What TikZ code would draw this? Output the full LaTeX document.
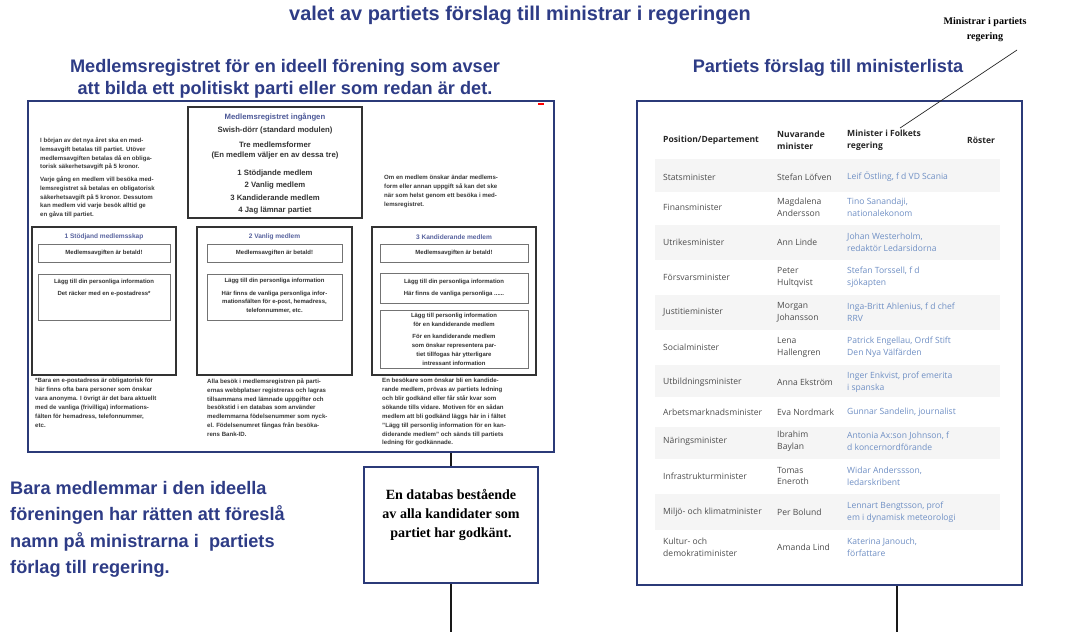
\documentclass[tikz,border=0pt]{standalone}
\usepackage{fontspec}
\setmainfont{Liberation Sans}
\newfontfamily\tabfont{Open Sans}
\newfontfamily\serfont{Liberation Serif}
\usetikzlibrary{positioning}

\definecolor{rubrikblue}{HTML}{2E3C86}
\definecolor{ramblue}{HTML}{2B3A78}
\definecolor{namnblue}{HTML}{6F8FC4}
\definecolor{textgray}{HTML}{3A3A3A}

\tikzset{ramnode/.style={rectangle, draw=ramblue, line width=2.2pt}}
\tikzset{formnode/.style={rectangle, draw=black!80, line width=1.3pt}}
\tikzset{faltnode/.style={rectangle, draw=black!55, line width=0.6pt}}
\tikzset{rubrik/.style={font=\fontsize{15.5}{19}\selectfont\bfseries, text=rubrikblue, align=center, inner sep=0pt}}
\tikzset{liten/.style={font=\fontsize{5.2}{7.6}\selectfont\bfseries, text=textgray, align=left, anchor=north west, inner sep=0pt}}
\tikzset{ingtext/.style={font=\fontsize{6.6}{8.2}\selectfont\bfseries, text=black!80, align=center, inner sep=0pt}}
\tikzset{formtitel/.style={font=\fontsize{5.6}{7}\selectfont\bfseries, text=rubrikblue!80, inner sep=0pt}}
\tikzset{falttext/.style={font=\fontsize{5.1}{7.6}\selectfont\bfseries, text=black!80, align=center, inner sep=0pt}}
\tikzset{tabhead/.style={font=\tabfont\bfseries\fontsize{7.3}{10.2}\selectfont, text=black!85, align=left, anchor=west, inner sep=0pt}}
\tikzset{tabcell/.style={font=\tabfont\fontsize{7.3}{10.2}\selectfont, text=black!70, align=left, anchor=west, inner sep=0pt}}
\tikzset{tabnamn/.style={tabcell, text=namnblue}}
\tikzset{forbind/.style={draw=black!90, line width=1.6pt}}

\begin{document}
\begin{tikzpicture}[x=0.03cm, y=-0.03cm]
		\useasboundingbox (0,0) rectangle (1080,632);
		\fill[white] (0,0) rectangle (1080,632);

		%rubriker
		\node[rubrik, font=\fontsize{17}{20}\selectfont\bfseries] (titel) at (520,15) {valet av partiets förslag till ministrar i regeringen};
		\node[rubrik] (regrubrik) at (285,79) {Medlemsregistret för en ideell förening som avser\\att bilda ett politiskt parti eller som redan är det.};
		\node[rubrik] (listrubrik) at (828,68) {Partiets förslag till ministerlista};
		\node[font=\serfont\bfseries\fontsize{8.6}{12.8}\selectfont, align=center, inner sep=0pt] (minlabel) at (985,29.5) {Ministrar i partiets\\regering};

		%medlemsregistret
		\node[ramnode, minimum width=15.78cm, minimum height=10.53cm] (reg) at (291,276.5) {};
		\draw[red, line width=1.5pt] (538,104) -- (544,104);

		\node[formnode, minimum width=5.22cm, minimum height=3.33cm] (ingang) at (275,162.5) {};
		\node[ingtext, text=rubrikblue!85] (ing1) at (275,117) {Medlemsregistret ingången};
		\node[ingtext] (ing2) at (275,130) {Swish-dörr (standard modulen)};
		\node[ingtext] (ing3) at (275,150.5) {Tre medlemsformer\\(En medlem väljer en av dessa tre)};
		\node[ingtext] (ing4) at (275,173) {1 Stödjande medlem};
		\node[ingtext] (ing5) at (275,185.5) {2 Vanlig medlem};
		\node[ingtext] (ing6) at (275,198) {3 Kandiderande medlem};
		\node[ingtext] (ing7) at (275,210.5) {4 Jag lämnar partiet};

		\node[liten] (avgift) at (40,137) {I början av det nya året ska en med-\\lemsavgift betalas till partiet. Utöver\\medlemsavgiften betalas då en obliga-\\torisk säkerhetsavgift på 5 kronor.};
		\node[liten] (besok) at (40,176) {Varje gång en medlem vill besöka med-\\lemsregistret så betalas en obligatorisk\\säkerhetsavgift på 5 kronor. Dessutom\\kan medlem vid varje besök alltid ge\\en gåva till partiet.};
		\node[liten] (andra) at (384,175) {Om en medlem önskar ändar medlems-\\form eller annan uppgift så kan det ske\\när som helst genom ett besöka i med-\\lemsregistret.};

		%medlemsformer
		\node[formnode, minimum width=4.32cm, minimum height=4.44cm] (stod) at (104,301) {};
		\node[formtitel] (stodtitel) at (104,237) {1 Stödjand medlemsskap};
		\node[faltnode, minimum width=3.96cm, minimum height=0.54cm] (stodbet) at (104,253) {};
		\node[falttext] at (stodbet) {Medlemsavgiften är betald!};
		\node[faltnode, minimum width=3.96cm, minimum height=1.38cm] (stodinfo) at (104,297) {};
		\node[falttext] at (104,288) {Lägg till din personliga information\\[3pt]Det räcker med en e-postadress*};

		\node[formnode, minimum width=4.65cm, minimum height=4.44cm] (vanlig) at (274.5,301) {};
		\node[formtitel] (vanligtitel) at (274.5,237) {2 Vanlig medlem};
		\node[faltnode, minimum width=4.05cm, minimum height=0.54cm] (vanligbet) at (274.5,253) {};
		\node[falttext] at (vanligbet) {Medlemsavgiften är betald!};
		\node[faltnode, minimum width=4.05cm, minimum height=1.38cm] (vanliginfo) at (274.5,297) {};
		\node[falttext] at (274.5,296) {Lägg till din personliga information\\[3pt]Här finns de vanliga personliga infor-\\mationsfälten för e-post, hemadress,\\telefonnummer, etc.};

		\node[formnode, minimum width=4.92cm, minimum height=4.44cm] (kand) at (454,301) {};
		\node[formtitel] (kandtitel) at (454,237) {3 Kandiderande medlem};
		\node[faltnode, minimum width=4.44cm, minimum height=0.54cm] (kandbet) at (454,253) {};
		\node[falttext] at (kandbet) {Medlemsavgiften är betald!};
		\node[faltnode, minimum width=4.44cm, minimum height=0.9cm] (kandinfo) at (454,288) {};
		\node[falttext] at (kandinfo) {Lägg till din personliga information\\[3pt]Här finns de vanliga personliga ......};
		\node[faltnode, minimum width=4.44cm, minimum height=1.74cm] (kandextra) at (454,339) {};
		\node[falttext] at (kandextra) {Lägg till personlig information\\för en kandiderande medlem\\[3pt]För en kandiderande medlem\\som önskar representera par-\\tiet tillfogas här ytterligare\\intressant information};

		\node[liten] (stodnot) at (35,378) {*Bara en e-postadress är obligatorisk för\\här finns ofta bara personer som önskar\\vara anonyma. I övrigt är det bara aktuellt\\med de vanliga (frivilliga) informations-\\fälten för hemadress, telefonnummer,\\etc.};
		\node[liten] (vanlignot) at (207,378) {Alla besök i medlemsregistren på parti-\\ernas webbplatser registreras och lagras\\tillsammans med lämnade uppgifter och\\besökstid i en databas som använder\\medlemmarna födelsenummer som nyck-\\el. Födelsenumret fångas från besöka-\\rens Bank-ID.};
		\node[liten] (kandnot) at (382,378) {En besökare som önskar bli en kandide-\\rande medlem, prövas av partiets ledning\\och blir godkänd eller får står kvar som\\sökande tills vidare. Motiven för en sådan\\medlem att bli godkänd läggs här in i fältet\\"Lägg till personlig information för en kan-\\diderande medlem" och sänds till partiets\\ledning för godkännade.};

		%databas och text under
		\node[rubrik, align=left, anchor=north west, font=\fontsize{15.5}{22.5}\selectfont\bfseries] (ratt) at (10,481) {Bara medlemmar i den ideella\\föreningen har rätten att föreslå\\namn på ministrarna i~ partiets\\förlag till regering.};

		\node[ramnode, line width=2pt, minimum width=5.22cm, minimum height=3.48cm] (db) at (451,525) {};
		\node[font=\serfont\bfseries\fontsize{12}{16.2}\selectfont, align=center, inner sep=0pt, anchor=north] (dbtext) at (451,489) {En databas bestående\\av alla kandidater som\\partiet har godkänt.};
		\coordinate (dbslut) at (451,632);

		\path[forbind] (reg.south -| db.north) -- (db.north);
		\path[forbind] (db.south) -- (dbslut);

		%ministerlista
		\node[ramnode, minimum width=11.55cm, minimum height=14.52cm] (lista) at (829.5,343) {};
		\coordinate (listaslut) at (897,632);
		\path[forbind] (listaslut |- lista.south) -- (listaslut);

		\fill[black!4] (655,158.5) rectangle (1000,192);
		\fill[black!4] (655,224.5) rectangle (1000,259.5);
		\fill[black!4] (655,294.5) rectangle (1000,329.5);
		\fill[black!4] (655,364.5) rectangle (1000,397);
		\fill[black!4] (655,426.5) rectangle (1000,458.5);
		\fill[black!4] (655,494) rectangle (1000,529.5);

		\node[tabhead] (h1) at (663,140) {Position/Departement};
		\node[tabhead] (h2) at (777,140) {Nuvarande\\minister};
		\node[tabhead] (h3) at (847,140) {Minister i Folkets\\regering};
		\node[tabhead] (h4) at (967,140) {Röster};

		\node[tabcell] (r1a) at (663,177) {Statsminister};
		\node[tabcell] (r1b) at (777,177) {Stefan Löfven};
		\node[tabnamn] (r1c) at (847,177) {Leif Östling, f d VD Scania};

		\node[tabcell] (r2a) at (663,207) {Finansminister};
		\node[tabcell] (r2b) at (777,207) {Magdalena\\Andersson};
		\node[tabnamn] (r2c) at (847,207) {Tino Sanandaji,\\nationalekonom};

		\node[tabcell] (r3a) at (663,242) {Utrikesminister};
		\node[tabcell] (r3b) at (777,242) {Ann Linde};
		\node[tabnamn] (r3c) at (847,242) {Johan Westerholm,\\redaktör Ledarsidorna};

		\node[tabcell] (r4a) at (663,277) {Försvarsminister};
		\node[tabcell] (r4b) at (777,277) {Peter\\Hultqvist};
		\node[tabnamn] (r4c) at (847,277) {Stefan Torssell, f d\\sjökapten};

		\node[tabcell] (r5a) at (663,312) {Justitieminister};
		\node[tabcell] (r5b) at (777,312) {Morgan\\Johansson};
		\node[tabnamn] (r5c) at (847,312) {Inga-Britt Ahlenius, f d chef\\RRV};

		\node[tabcell] (r6a) at (663,347) {Socialminister};
		\node[tabcell] (r6b) at (777,347) {Lena\\Hallengren};
		\node[tabnamn] (r6c) at (847,347) {Patrick Engellau, Ordf Stift\\Den Nya Välfärden};

		\node[tabcell] (r7a) at (663,382) {Utbildningsminister};
		\node[tabcell] (r7b) at (777,382) {Anna Ekström};
		\node[tabnamn] (r7c) at (847,382) {Inger Enkvist, prof emerita\\i spanska};

		\node[tabcell] (r8a) at (663,412) {Arbetsmarknadsminister};
		\node[tabcell] (r8b) at (777,412) {Eva Nordmark};
		\node[tabnamn] (r8c) at (847,412) {Gunnar Sandelin, journalist};

		\node[tabcell] (r9a) at (663,441) {Näringsminister};
		\node[tabcell] (r9b) at (777,441) {Ibrahim\\Baylan};
		\node[tabnamn] (r9c) at (847,441) {Antonia Ax:son Johnson, f\\d koncernordförande};

		\node[tabcell] (r10a) at (663,476) {Infrastrukturminister};
		\node[tabcell] (r10b) at (777,476) {Tomas\\Eneroth};
		\node[tabnamn] (r10c) at (847,476) {Widar Anderssson,\\ledarskribent};

		\node[tabcell] (r11a) at (663,512) {Miljö- och klimatminister};
		\node[tabcell] (r11b) at (777,512) {Per Bolund};
		\node[tabnamn] (r11c) at (847,512) {Lennart Bengtsson, prof\\em i dynamisk meteorologi};

		\node[tabcell] (r12a) at (663,547) {Kultur- och\\demokratiminister};
		\node[tabcell] (r12b) at (777,547) {Amanda Lind};
		\node[tabnamn] (r12c) at (847,547) {Katerina Janouch,\\författare};

		%pekare till kolumnen
		\coordinate (pilstart) at (1017,50);
		\coordinate (pilslut) at (900,128);
		\draw[black!85, line width=0.6pt] (pilstart) -- (pilslut);

	\end{tikzpicture}
\end{document}
